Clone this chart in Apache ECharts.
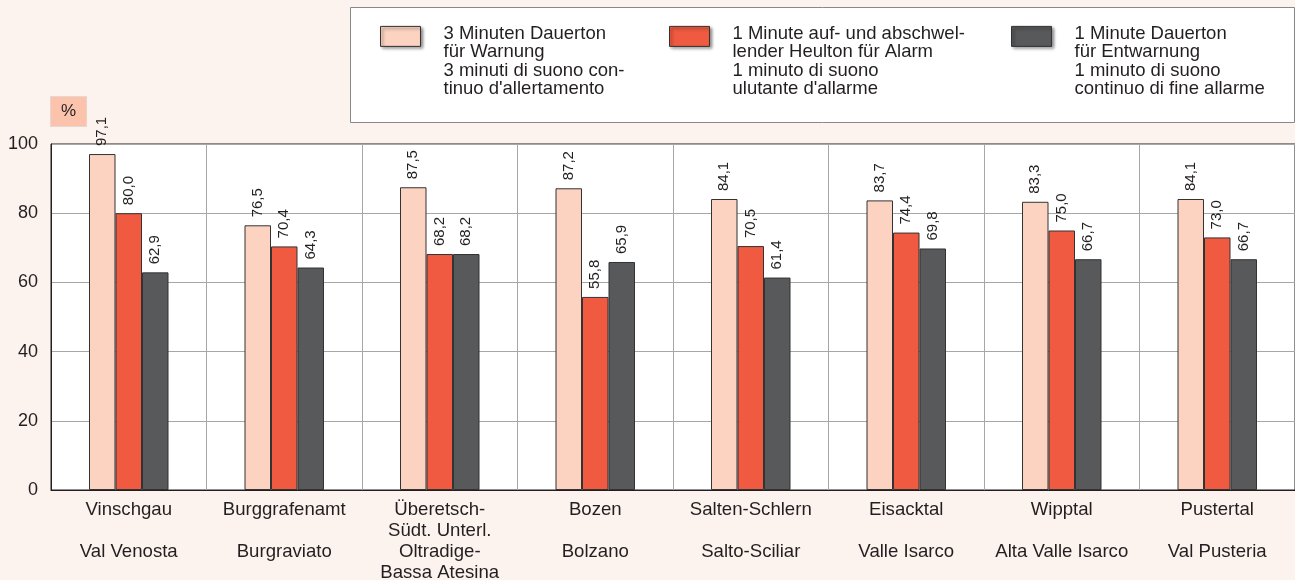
<!DOCTYPE html>
<html>
<head>
<meta charset="utf-8">
<script src="https://cdn.jsdelivr.net/npm/echarts@6/dist/echarts.min.js"></script>
<style>
html,body{margin:0;padding:0;background:#fdf3ee;}
#c{width:1295px;height:580px;}
</style>
</head>
<body>
<div id="c"></div>
<script>
const categories = [
  "Vinschgau\n\nVal Venosta",
  "Burggrafenamt\n\nBurgraviato",
  "Überetsch-\nSüdt. Unterl.\nOltradige-\nBassa Atesina",
  "Bozen\n\nBolzano",
  "Salten-Schlern\n\nSalto-Sciliar",
  "Eisacktal\n\nValle Isarco",
  "Wipptal\n\nAlta Valle Isarco",
  "Pustertal\n\nVal Pusteria"
];
const seriesNames = [
  "3 Minuten Dauerton\nfür Warnung\n3 minuti di suono con-\ntinuo d'allertamento",
  "1 Minute auf- und abschwel-\nlender Heulton für Alarm\n1 minuto di suono\nulutante d'allarme",
  "1 Minute Dauerton\nfür Entwarnung\n1 minuto di suono\ncontinuo di fine allarme"
];
const warnung = [97.1, 76.5, 87.5, 87.2, 84.1, 83.7, 83.3, 84.1];
const alarm = [80.0, 70.4, 68.2, 55.8, 70.5, 74.4, 75.0, 73.0];
const entwarnung = [62.9, 64.3, 68.2, 65.9, 61.4, 69.8, 66.7, 66.7];
const yTicks = [0, 20, 40, 60, 80, 100];

const colors = ["#fcd2c0", "#f05a40", "#58595b"];
const values = [warnung, alarm, entwarnung];
const FONT = "'Liberation Sans', Arial, sans-serif";

const chart = echarts.init(document.getElementById('c'), null, {renderer: 'canvas'});

const legendLefts = [375, 664, 1006];
const legends = seriesNames.map((n, i) => ({
  data: [n],
  left: legendLefts[i],
  top: -10,
  orient: 'vertical',
  itemWidth: 40,
  itemHeight: 20,
  selectedMode: false,
  icon: 'rect',
  itemStyle: {borderColor: '#333', borderWidth: 1, shadowColor: 'rgba(0,0,0,0.45)', shadowBlur: 3, shadowOffsetX: 2, shadowOffsetY: 2},
  formatter: name => '{s| }\n' + name.split('\n').map(l => '{t|' + l + '}').join('\n'),
  textStyle: {
    padding: [0, 0, 0, 18],
    rich: {
      s: {fontSize: 10, lineHeight: 50, fontFamily: FONT},
      t: {fontFamily: FONT, fontSize: 18.5, lineHeight: 18.2, color: '#231f20'}
    }
  }
}));

const series = seriesNames.map((n, i) => ({
  name: n,
  type: 'bar',
  data: values[i],
  barWidth: 26.5,
  barGap: '0%',
  itemStyle: {color: colors[i], borderColor: '#333', borderWidth: 1},
  label: {
    show: true,
    position: 'top',
    rotate: 90,
    align: 'left',
    verticalAlign: 'middle',
    distance: 8,
    fontFamily: FONT,
    fontSize: 15,
    color: '#231f20',
    formatter: p => p.value.toFixed(1).replace('.', ',')
  }
}));

chart.setOption({
  backgroundColor: '#fdf3ee',
  animation: false,
  color: colors,
  graphic: [{
    type: 'rect', z: -1,
    shape: {x: 350.5, y: 7.5, width: 944, height: 115},
    style: {fill: '#ffffff', stroke: '#888', lineWidth: 1}
  }],
  legend: legends,
  grid: {left: 51, right: 0, top: 144, bottom: 90, containLabel: false, outerBoundsMode: 'none', show: true, backgroundColor: '#ffffff', borderColor: '#231f20', borderWidth: 1},
  xAxis: {
    type: 'category',
    data: categories,
    axisTick: {show: false},
    axisLine: {lineStyle: {color: '#231f20', width: 1}},
    splitLine: {show: true, interval: 0, lineStyle: {color: '#a7a7a7', width: 1}},
    axisLabel: {interval: 0, margin: 10, fontFamily: FONT, fontSize: 18.6, lineHeight: 20.7, color: '#231f20'}
  },
  yAxis: {
    type: 'value',
    min: 0, max: 100, interval: 20,
    name: '%',
    nameLocation: 'end',
    nameGap: 18,
    nameTextStyle: {align: 'left', fontFamily: FONT, fontSize: 17, color: '#231f20', backgroundColor: '#fbc2ac', borderColor: '#e9d6cf', borderWidth: 1, padding: [6, 10]},
    axisLine: {show: true, lineStyle: {color: '#231f20', width: 1}},
    axisTick: {show: false},
    splitLine: {show: true, lineStyle: {color: '#a7a7a7', width: 1}},
    axisLabel: {margin: 13, fontFamily: FONT, fontSize: 18, color: '#231f20',
      formatter: v => yTicks.includes(v) ? String(v) : ''}
  },
  series: series
});
</script>
</body>
</html>
